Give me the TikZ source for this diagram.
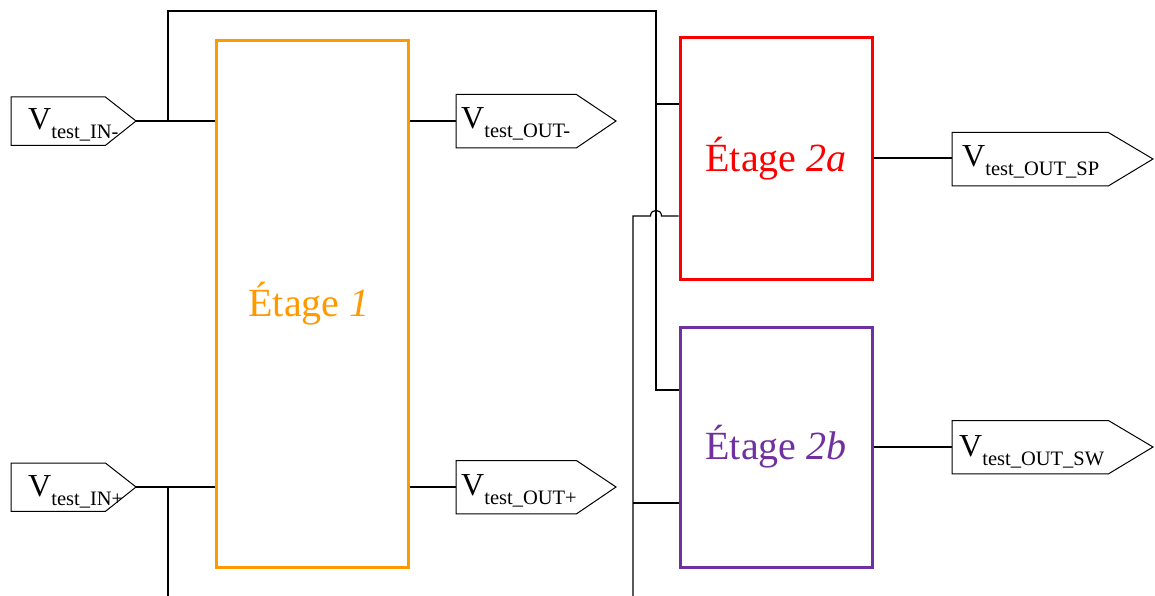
\documentclass[tikz,border=0pt]{standalone}
\usepackage{fontspec}
\setmainfont{Liberation Serif}
\definecolor{stageorange}{RGB}{255,153,0}
\definecolor{stagered}{RGB}{250,0,0}
\definecolor{stagepurple}{RGB}{112,48,160}
\newcommand\vsubtxt[1]{\raisebox{-9pt}{\fontsize{20.5}{21}\selectfont #1}}
\tikzset{
  wire/.style={draw=black, line width=1.2pt},
  tagrect/.style={draw=none, inner sep=0pt, anchor=north west},
  tagline/.style={draw=black, line width=1pt, line join=miter},
  vtext/.style={inner sep=0pt, anchor=base west, font=\fontsize{32}{32}\selectfont},
  stagebox/.style={line width=3pt, inner sep=0pt, font=\fontsize{40}{40}\selectfont},
}
\begin{document}
\begin{tikzpicture}[x=1pt,y=-1pt]
\useasboundingbox (0,0) rectangle (1155,596);
% stages
\node[stagebox, draw=stageorange, text=stageorange, minimum width=192, minimum height=526] (e1) at (312,304) {\raisebox{3pt}{Étage \textit{1}\hspace{6pt}}};
\node[stagebox, draw=stagered, text=stagered, minimum width=192, minimum height=241] (e2a) at (776,158.5) {Étage \textit{2a}};
\node[stagebox, draw=stagepurple, text=stagepurple, minimum width=192, minimum height=240] (e2b) at (776,447) {Étage \textit{2b}};
% input tags
\node[tagrect, minimum width=94, minimum height=48] (inm) at (11,97) {};
\draw[tagline] (inm.north west) -- (inm.north east) -- (136,121) coordinate (inm-tip) -- (inm.south east) -- (inm.south west) -- cycle;
\node[vtext] (inm-t) at (28,130) {V\vsubtxt{test\_IN-}};
\node[tagrect, minimum width=94, minimum height=48] (inp) at (11,463) {};
\draw[tagline] (inp.north west) -- (inp.north east) -- (136,487) coordinate (inp-tip) -- (inp.south east) -- (inp.south west) -- cycle;
\node[vtext] (inp-t) at (28,496) {V\vsubtxt{test\_IN+}};
% output tags
\node[tagrect, minimum width=120, minimum height=53] (outm) at (456,94.5) {};
\draw[tagline] (outm.north west) -- (outm.north east) -- (616,121) -- (outm.south east) -- (outm.south west) -- cycle;
\node[vtext] (outm-t) at (461,129) {V\vsubtxt{test\_OUT-}};
\node[tagrect, minimum width=120, minimum height=53] (outp) at (456,460.5) {};
\draw[tagline] (outp.north west) -- (outp.north east) -- (616,487) -- (outp.south east) -- (outp.south west) -- cycle;
\node[vtext] (outp-t) at (461,495) {V\vsubtxt{test\_OUT+}};
\node[tagrect, minimum width=156, minimum height=53] (sp) at (952,132.5) {};
\draw[tagline] (sp.north west) -- (sp.north east) -- (1153,159) -- (sp.south east) -- (sp.south west) -- cycle;
\node[vtext] (sp-t) at (962,167) {V\vsubtxt{test\_OUT\_SP}};
\node[tagrect, minimum width=156, minimum height=53] (sw) at (952,420.5) {};
\draw[tagline] (sw.north west) -- (sw.north east) -- (1153,447) -- (sw.south east) -- (sw.south west) -- cycle;
\node[vtext] (sw-t) at (959,456) {V\vsubtxt{test\_OUT\_SW}};
% wires
\coordinate (j1) at (168,121);
\coordinate (j2) at (168,487);
\coordinate (bl) at (168,596);
\coordinate (tr) at (656,11);
\coordinate (c1) at (656,104);
\coordinate (c2) at (656,390);
\coordinate (b2) at (633,596);
\coordinate (h1) at (633,216);
\coordinate (h2) at (633,503);
\draw[wire] (inm-tip) -- (inm-tip -| e1.west);
\draw[wire] (j1) |- (tr) -- (c2) -- (c2 -| e2b.west);
\draw[wire] (c1) -- (c1 -| e2a.west);
\draw[wire] (inp-tip) -- (inp-tip -| e1.west);
\draw[wire] (j2) -- (bl);
\draw[wire] (outm.west |- inm-tip) -- (outm.west |- inm-tip -| e1.east);
\draw[wire] (e1.east |- inp-tip) -- (outp.west |- inp-tip);
\draw[wire] (e2a.east |- 0,158) -- (sp.west |- 0,158);
\draw[wire] (e2b.east |- 0,447) -- (sw.west |- 0,447);
\draw[wire] (b2) -- (h1) -- (650.5,216) .. controls (650.5,208.5) and (661.5,208.5) .. (661.5,216) -- (h1 -| e2a.west);
\draw[wire] (h2) -- (h2 -| e2b.west);
\end{tikzpicture}
\end{document}
